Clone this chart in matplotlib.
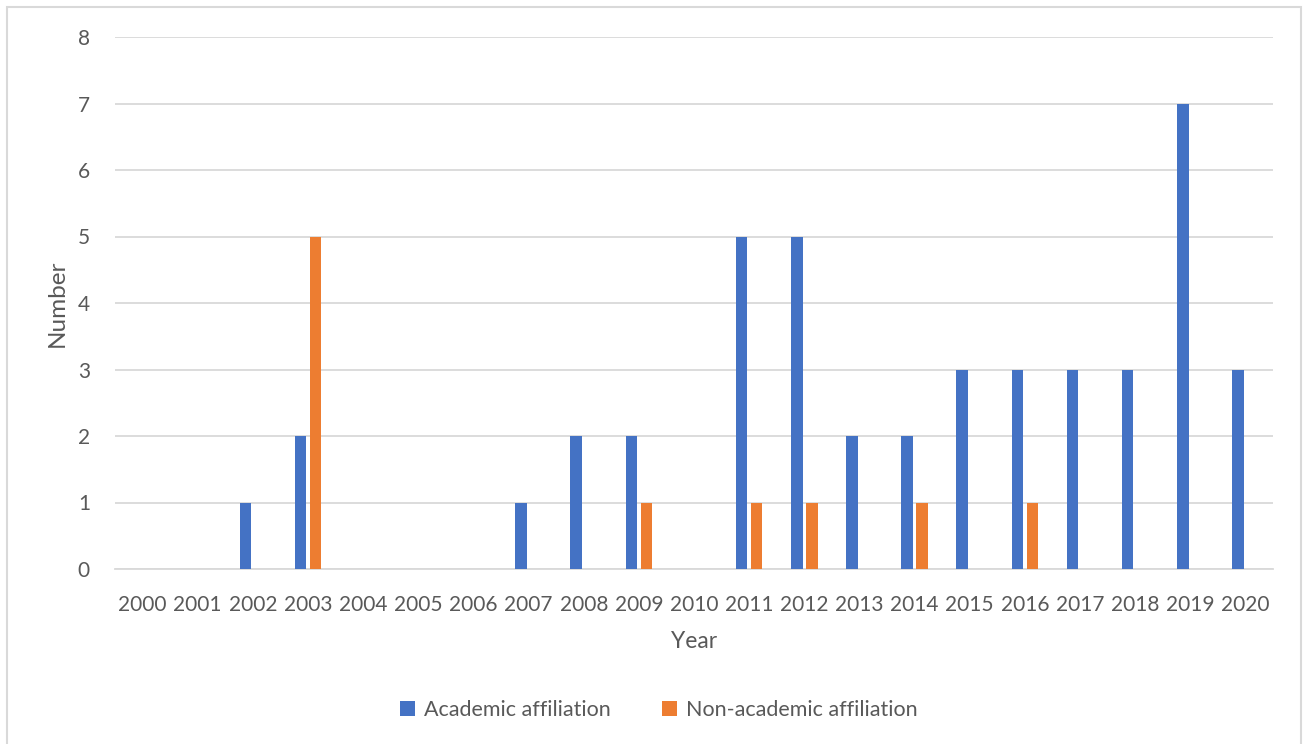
import numpy as np
import matplotlib
matplotlib.use('Agg')
from matplotlib import pyplot as plt
from matplotlib.patches import Rectangle

years = [str(y) for y in range(2000, 2021)]
academic = [0, 0, 1, 2, 0, 0, 0, 1, 2, 2, 0, 5, 5, 2, 2, 3, 3, 3, 3, 7, 3]
non_academic = [0, 0, 0, 5, 0, 0, 0, 0, 0, 1, 0, 1, 1, 0, 1, 0, 1, 0, 0, 0, 0]

plt.rcParams['font.family'] = ['Lato', 'DejaVu Sans']
txt = '#595959'

fig = plt.figure(figsize=(13.09, 7.44), dpi=100)
fig.patches.append(Rectangle((7 / 1309, -0.01), 1294 / 1309, 1 - 7 / 744 + 0.01,
                             transform=fig.transFigure, fill=False,
                             edgecolor='#d9d9d9', linewidth=1.5))
ax = fig.add_axes([115 / 1309, 1 - 569 / 744, 1158 / 1309, 532 / 744])

x = np.arange(len(years))
w = 0.21
off = 0.135
ax.bar(x - off, academic, w, color='#4472C4', label='Academic affiliation', zorder=3)
ax.bar(x + off, non_academic, w, color='#ED7D31', label='Non-academic affiliation', zorder=3)

ax.set_xlim(-0.5, len(years) - 0.5)
ax.set_ylim(0, 8)
ax.set_yticks(range(0, 9))
ax.set_xticks(x)
ax.set_xticklabels(years)
ax.grid(axis='y', color='#d9d9d9', linewidth=1.3, zorder=0)
for s in ['top', 'right', 'left']:
    ax.spines[s].set_visible(False)
ax.spines['bottom'].set_color('#d9d9d9')
ax.spines['bottom'].set_linewidth(1.3)
ax.tick_params(axis='both', length=0, labelsize=15, colors=txt)
ax.tick_params(axis='x', pad=19)
ax.tick_params(axis='y', pad=18)

ax.set_xlabel('Year', fontsize=16.5, color=txt, labelpad=11)
ax.set_ylabel('Number', fontsize=17.5, color=txt, labelpad=7)

ax.legend(loc='center', bbox_to_anchor=(659 / 1309, 1 - 710 / 744),
          bbox_transform=fig.transFigure, ncol=2, frameon=False,
          fontsize=15.5, labelcolor=txt, handlelength=0.7, handleheight=0.7,
          handletextpad=0.4, columnspacing=2.4)

fig.savefig('out.png', dpi=100)
